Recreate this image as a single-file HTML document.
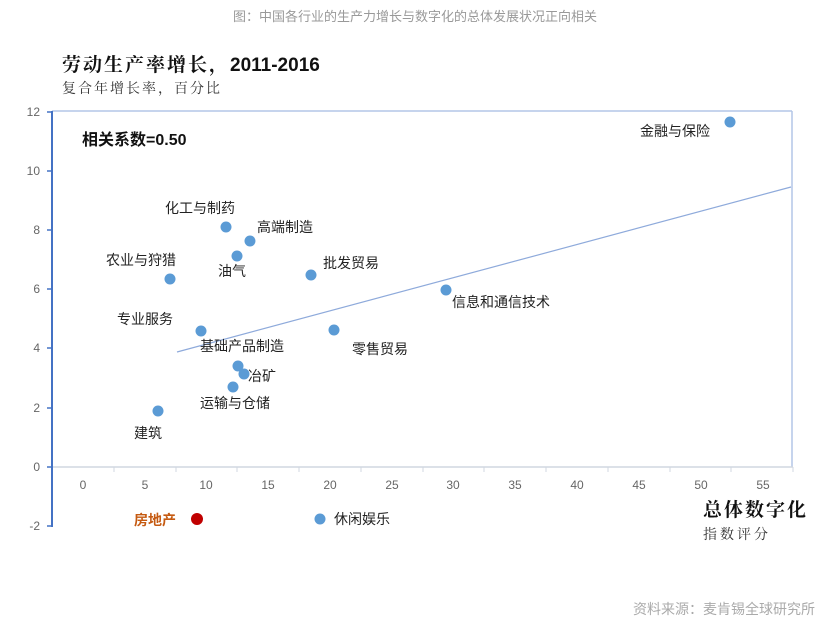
<!DOCTYPE html>
<html><head><meta charset="utf-8"><style>
body{margin:0;background:#fff;width:830px;height:628px;overflow:hidden}
svg text{font-family:"Liberation Sans","Noto Sans CJK SC",sans-serif}
svg .sf{font-family:"Liberation Serif","Noto Serif CJK SC",serif}
svg .ss{font-family:"Liberation Sans",sans-serif}
</style></head><body>
<svg width="830" height="628" viewBox="0 0 830 628">
<text x="415" y="21" text-anchor="middle" font-size="13" fill="#999">图：中国各行业的生产力增长与数字化的总体发展状况正向相关</text>
<text class="sf" x="62" y="71" font-size="19" font-weight="bold" fill="#111" letter-spacing="2">劳动生产率增长，<tspan class="ss" letter-spacing="0">2011-2016</tspan></text>
<text class="sf" x="62" y="93" font-size="14" fill="#333" letter-spacing="2">复合年增长率，百分比</text>
<g stroke="#b4c6e7" stroke-width="1.5" fill="none">
<line x1="52" y1="111" x2="792" y2="111"/><line x1="792" y1="111" x2="792" y2="467"/>
</g>
<line x1="52" y1="467" x2="793" y2="467" stroke="#d0d7e0" stroke-width="1.5"/>
<g stroke="#d0d7e0">
<line x1="114" y1="467" x2="114" y2="472"/><line x1="176" y1="467" x2="176" y2="472"/><line x1="237" y1="467" x2="237" y2="472"/><line x1="299" y1="467" x2="299" y2="472"/><line x1="361" y1="467" x2="361" y2="472"/><line x1="423" y1="467" x2="423" y2="472"/><line x1="484" y1="467" x2="484" y2="472"/><line x1="546" y1="467" x2="546" y2="472"/><line x1="608" y1="467" x2="608" y2="472"/><line x1="670" y1="467" x2="670" y2="472"/><line x1="731" y1="467" x2="731" y2="472"/><line x1="793" y1="467" x2="793" y2="472"/>
</g>
<line x1="52" y1="111" x2="52" y2="527" stroke="#4472c4" stroke-width="2"/>
<g stroke="#4472c4" stroke-width="1.5">
<line x1="47" y1="112" x2="52" y2="112"/><line x1="47" y1="171" x2="52" y2="171"/><line x1="47" y1="230" x2="52" y2="230"/><line x1="47" y1="289" x2="52" y2="289"/><line x1="47" y1="348" x2="52" y2="348"/><line x1="47" y1="408" x2="52" y2="408"/><line x1="47" y1="467" x2="52" y2="467"/><line x1="47" y1="526" x2="52" y2="526"/>
</g>
<g font-size="12" fill="#666" text-anchor="end">
<text x="40" y="116">12</text><text x="40" y="175">10</text><text x="40" y="234">8</text><text x="40" y="293">6</text><text x="40" y="352">4</text><text x="40" y="412">2</text><text x="40" y="471">0</text><text x="40" y="530">-2</text>
</g>
<g font-size="12" fill="#666" text-anchor="middle">
<text x="83" y="489">0</text><text x="145" y="489">5</text><text x="206" y="489">10</text><text x="268" y="489">15</text><text x="330" y="489">20</text><text x="392" y="489">25</text><text x="453" y="489">30</text><text x="515" y="489">35</text><text x="577" y="489">40</text><text x="639" y="489">45</text><text x="701" y="489">50</text><text x="763" y="489">55</text>
</g>
<line x1="177" y1="352" x2="791" y2="187" stroke="#8eaadb" stroke-width="1.2"/>
<text x="82" y="145" font-size="16" font-weight="bold" fill="#111">相关系数=0.50</text>
<g fill="#5b9bd5">
<circle cx="730" cy="122" r="5.5"/><circle cx="226" cy="227" r="5.5"/><circle cx="250" cy="241" r="5.5"/><circle cx="237" cy="256" r="5.5"/><circle cx="170" cy="279" r="5.5"/><circle cx="311" cy="275" r="5.5"/><circle cx="446" cy="290" r="5.5"/><circle cx="201" cy="331" r="5.5"/><circle cx="334" cy="330" r="5.5"/><circle cx="238" cy="366" r="5.5"/><circle cx="244" cy="374" r="5.5"/><circle cx="233" cy="387" r="5.5"/><circle cx="158" cy="411" r="5.5"/><circle cx="320" cy="519" r="5.5"/>
</g>
<circle cx="197" cy="519" r="6" fill="#c00000"/>
<g font-size="14" fill="#222">
<text x="640" y="136">金融与保险</text><text x="165" y="213">化工与制药</text><text x="257" y="232">高端制造</text><text x="218" y="276">油气</text><text x="106" y="265">农业与狩猎</text><text x="323" y="268">批发贸易</text><text x="452" y="307">信息和通信技术</text><text x="117" y="324">专业服务</text><text x="352" y="354">零售贸易</text><text x="200" y="351">基础产品制造</text><text x="248" y="381">冶矿</text><text x="200" y="408">运输与仓储</text><text x="134" y="438">建筑</text><text x="334" y="524">休闲娱乐</text>
</g>
<text x="134" y="525" font-size="14" font-weight="bold" fill="#c55a11">房地产</text>
<text class="sf" x="703" y="516" font-size="19" font-weight="bold" fill="#111" letter-spacing="2">总体数字化</text>
<text class="sf" x="703" y="539" font-size="14" fill="#333" letter-spacing="3">指数评分</text>
<text x="815" y="614" text-anchor="end" font-size="14" fill="#aaa">资料来源：麦肯锡全球研究所</text>
</svg>
</body></html>
